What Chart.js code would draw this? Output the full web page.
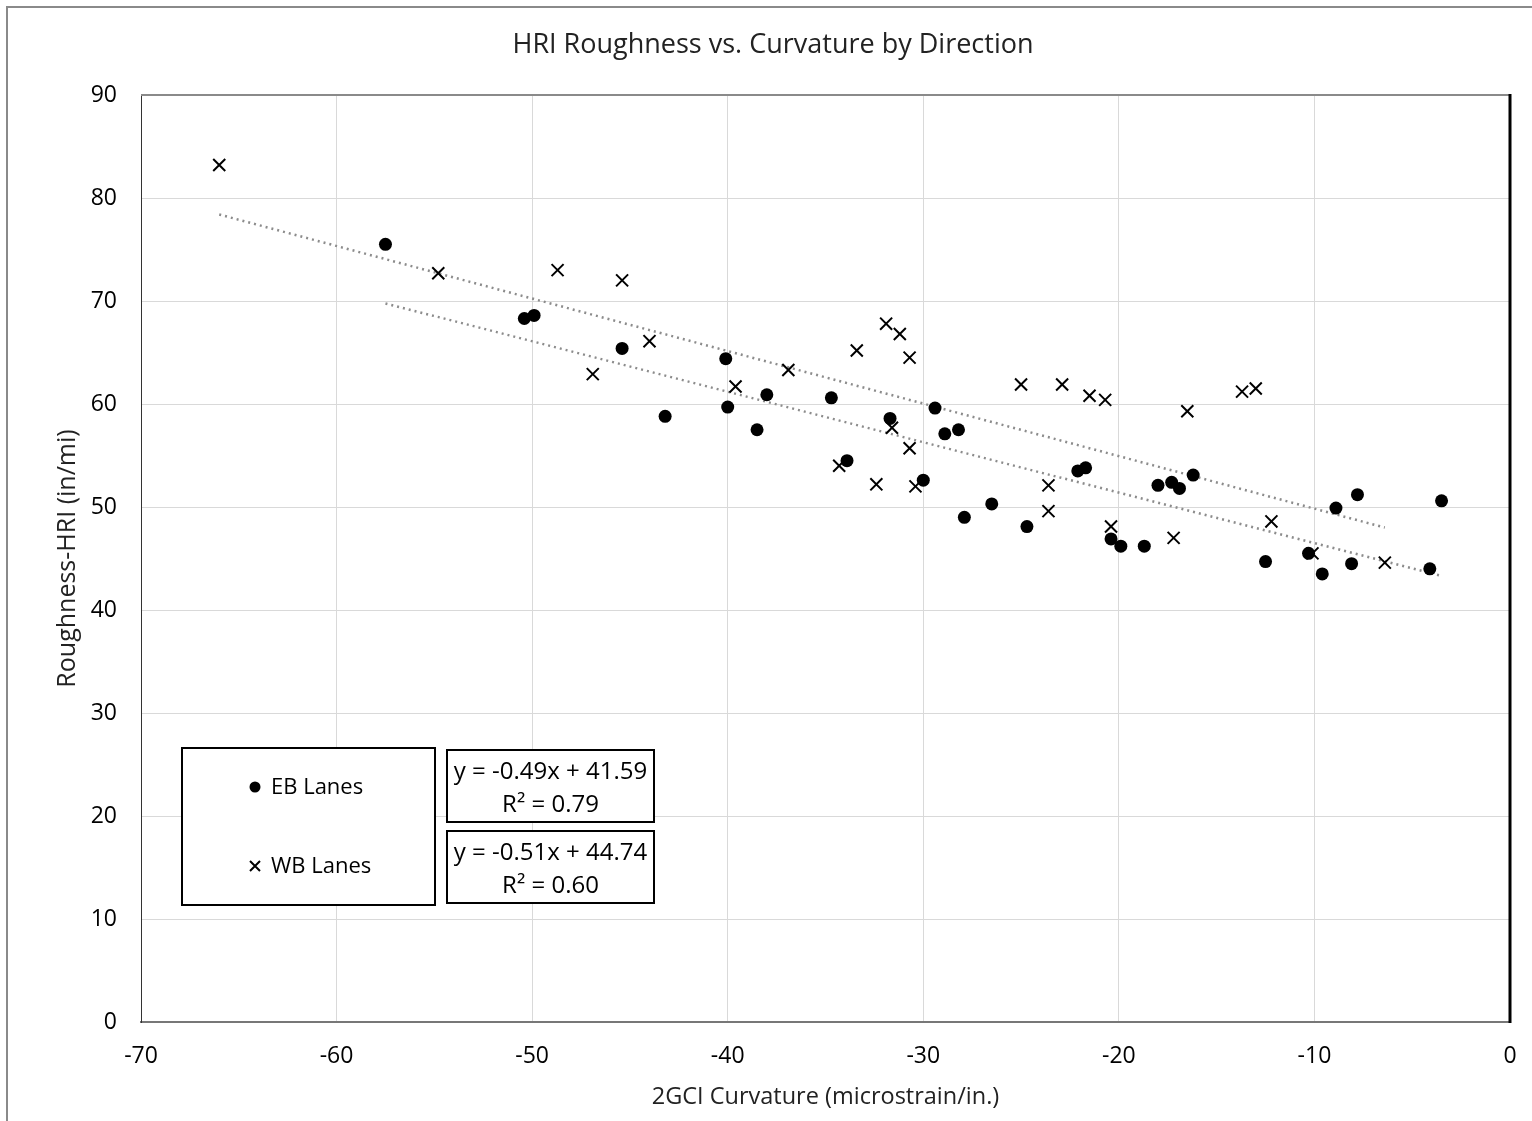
<!DOCTYPE html>
<html>
<head>
<meta charset="utf-8">
<script src="https://cdn.jsdelivr.net/npm/chart.js@4.4.1/dist/chart.umd.min.js"></script>
<style>
  html, body { margin: 0; padding: 0; background: #fff; }
  #wrap { width: 1532px; height: 1121px; position: relative; }
</style>
</head>
<body>
<div id="wrap"><canvas id="chart" width="1532" height="1121"></canvas></div>
<script>
// EB lanes (filled circles)
const ebX = [-57.5, -50.4, -49.9, -45.4, -43.2, -40.1, -40.0, -38.5, -38.0, -34.7,
             -33.9, -31.7, -30.0, -29.4, -28.9, -28.2, -27.9, -26.5, -24.7, -22.1,
             -21.7, -20.4, -19.9, -18.7, -18.0, -17.3, -16.9, -16.2, -12.5, -10.3,
             -9.6, -8.9, -8.1, -7.8, -4.1, -3.5];
const ebY = [75.5, 68.3, 68.6, 65.4, 58.8, 64.4, 59.7, 57.5, 60.9, 60.6,
             54.5, 58.6, 52.6, 59.6, 57.1, 57.5, 49.0, 50.3, 48.1, 53.5,
             53.8, 46.9, 46.2, 46.2, 52.1, 52.4, 51.8, 53.1, 44.7, 45.5,
             43.5, 49.9, 44.5, 51.2, 44.0, 50.6];

// WB lanes (crosses)
const wbX = [-66.0, -54.8, -48.7, -46.9, -45.4, -44.0, -39.6, -36.9, -34.3, -33.4,
             -32.4, -31.9, -31.6, -31.2, -30.7, -30.7, -30.4, -25.0, -23.6, -23.6,
             -22.9, -21.5, -20.7, -20.4, -17.2, -16.5, -13.7, -13.0, -12.2, -10.1,
             -6.4];
const wbY = [83.2, 72.7, 73.0, 62.9, 72.0, 66.1, 61.7, 63.3, 54.0, 65.2,
             52.2, 67.8, 57.7, 66.8, 64.5, 55.7, 52.0, 61.9, 52.1, 49.6,
             61.9, 60.8, 60.4, 48.1, 47.0, 59.3, 61.2, 61.5, 48.6, 45.5,
             44.6];

// linear trendlines: [slope, intercept, R2]
const ebFit = [-0.49, 41.59, 0.79];
const wbFit = [-0.51, 44.74, 0.60];

const chartTitle = 'HRI Roughness vs. Curvature by Direction';
const seriesNames = ['EB Lanes', 'WB Lanes'];
const xTicks = [-70, -60, -50, -40, -30, -20, -10, 0];
const yTicks = [0, 10, 20, 30, 40, 50, 60, 70, 80, 90];

const FONT = "'Open Sans', 'DejaVu Sans', sans-serif";

function toPoints(xs, ys) {
    return xs.map((x, i) => ({ x: x, y: ys[i] }));
}

function trendLine(xs, fit) {
    const lo = Math.min(...xs);
    const hi = Math.max(...xs);
    return [lo, hi].map(x => ({ x: x, y: fit[0] * x + fit[1] }));
}

function eqText(fit) {
    const b = fit[1].toFixed(2);
    return ['y = ' + fit[0].toFixed(2) + 'x + ' + b, 'R\u00B2 = ' + fit[2].toFixed(2)];
}

// frame, outer border, title and the legend / equation boxes
const decorPlugin = {
    id: 'decor',
    beforeDraw(chart) {
        const ctx = chart.ctx;
        ctx.save();
        ctx.fillStyle = '#fff';
        ctx.fillRect(0, 0, chart.width, chart.height);
        ctx.strokeStyle = '#8a8a8a';
        ctx.lineWidth = 2;
        ctx.beginPath();
        ctx.moveTo(7, chart.height);
        ctx.lineTo(7, 7);
        ctx.lineTo(chart.width, 7);
        ctx.stroke();

        ctx.font = '27px ' + FONT;
        ctx.fillStyle = '#222';
        ctx.textAlign = 'center';
        ctx.textBaseline = 'middle';
        ctx.fillText(chartTitle, 773, 45);
        ctx.restore();
    },
    afterDraw(chart) {
        const ctx = chart.ctx;
        const a = chart.chartArea;
        ctx.save();
        // top border of plot area
        ctx.strokeStyle = '#8a8a8a';
        ctx.lineWidth = 2;
        ctx.beginPath();
        ctx.moveTo(a.left, a.top);
        ctx.lineTo(a.right, a.top);
        ctx.stroke();
        // heavy right border
        ctx.strokeStyle = '#000';
        ctx.lineWidth = 3;
        ctx.beginPath();
        ctx.moveTo(a.right, a.top - 1);
        ctx.lineTo(a.right, a.bottom + 1);
        ctx.stroke();

        // legend box
        const lx = a.left + 41, ly = a.top + 653, lw = 253, lh = 157;
        ctx.fillStyle = '#fff';
        ctx.fillRect(lx, ly, lw, lh);
        ctx.strokeStyle = '#000';
        ctx.lineWidth = 2;
        ctx.strokeRect(lx, ly, lw, lh);

        ctx.font = '22px ' + FONT;
        ctx.textBaseline = 'middle';
        ctx.textAlign = 'left';
        ctx.fillStyle = '#000';
        const rows = [ly + 39, ly + 118];
        chart.data.datasets.slice(0, 2).forEach((ds, i) => {
            const cx = lx + 73, cy = rows[i];
            if (ds.pointStyle === 'circle') {
                ctx.beginPath();
                ctx.arc(cx, cy, 5.5, 0, Math.PI * 2);
                ctx.fill();
            } else {
                ctx.lineWidth = 2;
                ctx.beginPath();
                ctx.moveTo(cx - 5, cy - 5); ctx.lineTo(cx + 5, cy + 5);
                ctx.moveTo(cx + 5, cy - 5); ctx.lineTo(cx - 5, cy + 5);
                ctx.stroke();
            }
            ctx.fillText(ds.label, cx + 16, cy + 1);
        });

        // equation boxes
        ctx.font = '24px ' + FONT;
        [ebFit, wbFit].forEach((fit, i) => {
            const bx = a.left + 306, by = a.top + 655 + i * 81, bw = 207, bh = 72;
            ctx.fillStyle = '#fff';
            ctx.fillRect(bx, by, bw, bh);
            ctx.strokeStyle = '#000';
            ctx.lineWidth = 2;
            ctx.strokeRect(bx, by, bw, bh);
            ctx.fillStyle = '#000';
            ctx.textAlign = 'center';
            const t = eqText(fit);
            ctx.fillText(t[0], bx + bw / 2, by + 22);
            ctx.fillText(t[1], bx + bw / 2, by + 55);
        });
        ctx.restore();
    }
};

new Chart(document.getElementById('chart'), {
    type: 'scatter',
    data: {
        datasets: [
            {
                label: seriesNames[0],
                data: toPoints(ebX, ebY),
                pointStyle: 'circle',
                pointRadius: 6.5,
                backgroundColor: '#000',
                borderColor: '#000',
                borderWidth: 0,
                order: 1
            },
            {
                label: seriesNames[1],
                data: toPoints(wbX, wbY),
                pointStyle: 'crossRot',
                pointRadius: 8.5,
                borderColor: '#000',
                borderWidth: 2,
                order: 1
            },
            {
                label: 'EB trend',
                type: 'line',
                data: trendLine(ebX, ebFit),
                borderColor: '#8c8c8c',
                borderWidth: 2.5,
                borderDash: [2, 4],
                pointRadius: 0,
                fill: false,
                order: 2
            },
            {
                label: 'WB trend',
                type: 'line',
                data: trendLine(wbX, wbFit),
                borderColor: '#8c8c8c',
                borderWidth: 2.5,
                borderDash: [2, 4],
                pointRadius: 0,
                fill: false,
                order: 2
            }
        ]
    },
    options: {
        responsive: false,
        animation: false,
        layout: { padding: { left: 8, right: 22, top: 95, bottom: 0 } },
        plugins: {
            legend: { display: false },
            tooltip: { enabled: false },
            title: { display: false }
        },
        scales: {
            x: {
                type: 'linear',
                min: xTicks[0],
                max: xTicks[xTicks.length - 1],
                afterFit(scale) {
                    scale.height = 99;
                    scale.paddingLeft = 0;
                    scale.paddingRight = 0;
                },
                afterBuildTicks(scale) { scale.ticks = xTicks.map(v => ({ value: v })); },
                grid: { color: '#d9d9d9', lineWidth: 1, drawTicks: false },
                border: { color: '#777', width: 2 },
                ticks: {
                    padding: 21,
                    color: '#000',
                    font: { family: FONT, size: 23 }
                },
                title: {
                    display: true,
                    text: '2GCI Curvature (microstrain/in.)',
                    color: '#222',
                    font: { family: FONT, size: 23.5 },
                    padding: { top: 0, bottom: 10 }
                }
            },
            y: {
                type: 'linear',
                min: yTicks[0],
                max: yTicks[yTicks.length - 1],
                afterFit(scale) {
                    scale.width = 133;
                    scale.paddingTop = 0;
                    scale.paddingBottom = 0;
                },
                afterBuildTicks(scale) { scale.ticks = yTicks.map(v => ({ value: v })); },
                grid: { color: '#d9d9d9', lineWidth: 1, drawTicks: false },
                border: { color: '#333', width: 1 },
                ticks: {
                    padding: 24,
                    color: '#000',
                    font: { family: FONT, size: 23 }
                },
                title: {
                    display: true,
                    text: 'Roughness-HRI (in/mi)',
                    color: '#222',
                    font: { family: FONT, size: 25 },
                    padding: { top: 45, bottom: 0 }
                }
            }
        }
    },
    plugins: [decorPlugin]
});
</script>
</body>
</html>
